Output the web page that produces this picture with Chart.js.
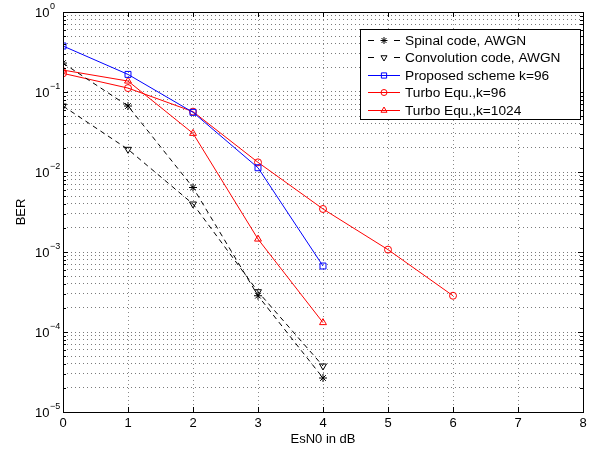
<!DOCTYPE html>
<html>
<head>
<meta charset="utf-8">
<script src="https://cdn.jsdelivr.net/npm/chart.js@4.4.1/dist/chart.umd.min.js"></script>
<style>
  html, body { margin: 0; padding: 0; background: #fff; }
  canvas { display: block; }
</style>
</head>
<body>
<canvas id="graficoBER" width="597" height="452"></canvas>
<script>
// EsN0 (dB) de cada curva
const esn0Corto = [0, 1, 2, 3, 4];
const esn0Largo = [0, 1, 2, 3, 4, 5, 6];

// BER medida
const berSpinal = [0.23, 0.0668, 0.0064, 2.84e-4, 2.66e-5];
const berConvolucion = [0.0668, 0.0192, 0.00398, 3.19e-4, 3.76e-5];
const berPropuesto = [0.376, 0.166, 0.0557, 0.0113, 6.68e-4];
const berTurbo96 = [0.171, 0.112, 0.0568, 0.0132, 0.00345, 0.00107, 2.84e-4];
const berTurbo1024 = [0.188, 0.137, 0.0304, 0.00145, 1.31e-4];

const nombres = [
  "Spinal code, AWGN",
  "Convolution code, AWGN",
  "Proposed scheme k=96",
  "Turbo Equ.,k=96",
  "Turbo Equ.,k=1024"
];

// ejes
const ticksX = [0, 1, 2, 3, 4, 5, 6, 7, 8];
const exponentesY = [-5, -4, -3, -2, -1, 0];

const FUENTE = '"Liberation Sans", Arial, Helvetica, sans-serif';
Chart.defaults.font.family = FUENTE;
Chart.defaults.font.size = 13;
Chart.defaults.color = "#000";

const puntos = (xs, ys) => xs.map((x, i) => ({ x, y: ys[i] }));

// marcas del eje log: 1..9 por década
const ticksY = [];
exponentesY.forEach(e => {
  if (e === 0) { ticksY.push(1); return; }
  for (let m = 1; m <= 9; m++) ticksY.push(+(m * Math.pow(10, e)).toPrecision(3));
});
const esDecada = v => Math.abs(Math.log10(v) - Math.round(Math.log10(v))) < 1e-9;

const serie = (label, xs, ys, color, estilo, extra) => Object.assign({
  label,
  data: puntos(xs, ys),
  borderColor: color,
  backgroundColor: color,
  borderWidth: 1,
  pointStyle: estilo,
  pointRadius: 3.5,
  pointBorderColor: color,
  pointBackgroundColor: "rgba(0,0,0,0)",
  pointBorderWidth: 1,
  pointHoverRadius: 3.5,
  tension: 0
}, extra || {});

// caja, marcas interiores, etiquetas 10^n y leyenda estilo MATLAB
const marcoMatlab = {
  id: "marcoMatlab",
  afterDatasetsDraw(chart) {
    const { ctx, chartArea: a, scales } = chart;
    const sx = scales.x, sy = scales.y;
    ctx.save();
    ctx.strokeStyle = "#000";
    ctx.lineWidth = 1;
    ctx.setLineDash([]);

    ctx.beginPath();
    ticksX.forEach(v => {
      const x = Math.round(sx.getPixelForValue(v)) + 0.5;
      ctx.moveTo(x, a.bottom); ctx.lineTo(x, a.bottom - 5);
      ctx.moveTo(x, a.top); ctx.lineTo(x, a.top + 5);
    });
    ticksY.forEach(v => {
      const y = Math.round(sy.getPixelForValue(v)) + 0.5;
      const largo = esDecada(v) ? 5 : 3;
      ctx.moveTo(a.left, y); ctx.lineTo(a.left + largo, y);
      ctx.moveTo(a.right, y); ctx.lineTo(a.right - largo, y);
    });
    ctx.stroke();

    ctx.strokeRect(Math.round(a.left) + 0.5, Math.round(a.top) + 0.5,
      Math.round(a.right - a.left), Math.round(a.bottom - a.top));

    // etiquetas del eje y
    ctx.fillStyle = "#000";
    ctx.textAlign = "left";
    ctx.textBaseline = "middle";
    exponentesY.forEach(e => {
      const y = sy.getPixelForValue(Math.pow(10, e));
      ctx.font = "13px " + FUENTE;
      ctx.fillText("10", 35, y + 1);
      const w = ctx.measureText("10").width;
      ctx.font = "9px " + FUENTE;
      ctx.fillText(e === 0 ? "0" : "\u2212" + (-e), 35 + w + 0.5, y - 5);
    });

    // leyenda
    const caja = { x: 360.5, y: 29.5, w: 220, h: 90 };
    ctx.fillStyle = "#fff";
    ctx.fillRect(caja.x, caja.y, caja.w, caja.h);
    ctx.strokeStyle = "#000";
    ctx.strokeRect(caja.x, caja.y, caja.w, caja.h);
    chart.data.datasets.forEach((ds, i) => {
      const y = Math.round(39.5 + i * 17.6) + 0.5;
      ctx.strokeStyle = ds.borderColor;
      ctx.lineWidth = 1;
      ctx.setLineDash(ds.borderDash ? [6, 20] : []);
      ctx.beginPath();
      ctx.moveTo(368, y); ctx.lineTo(400, y);
      ctx.stroke();
      ctx.setLineDash([]);
      ctx.fillStyle = "rgba(0,0,0,0)";
      Chart.helpers.drawPoint(ctx, {
        pointStyle: ds.pointStyle,
        rotation: ds.pointRotation || 0,
        radius: ds.pointRadius - 0.5,
        borderWidth: 1
      }, 384, y);
      ctx.fillStyle = "#000";
      ctx.font = "13.7px " + FUENTE;
      ctx.textBaseline = "middle";
      ctx.fillText(ds.label, 405, y + 0.5);
    });
    ctx.restore();
  }
};

new Chart(document.getElementById("graficoBER"), {
  type: "line",
  data: {
    datasets: [
      serie(nombres[0], esn0Corto, berSpinal, "#000", "star", { borderDash: [5, 4], pointRadius: 4 }),
      serie(nombres[1], esn0Corto, berConvolucion, "#000", "triangle", { borderDash: [5, 4], pointRotation: 180, pointRadius: 4 }),
      serie(nombres[2], esn0Corto, berPropuesto, "#0000ff", "rect", { pointRadius: 4.2 }),
      serie(nombres[3], esn0Largo, berTurbo96, "#ff0000", "circle"),
      serie(nombres[4], esn0Corto, berTurbo1024, "#ff0000", "triangle", { pointRadius: 4 })
    ]
  },
  options: {
    responsive: false,
    animation: false,
    events: [],
    layout: { padding: { left: 0, top: 12, right: 14, bottom: 0 } },
    plugins: { legend: { display: false }, tooltip: { enabled: false } },
    scales: {
      x: {
        type: "linear",
        min: 0,
        max: 8,
        afterBuildTicks: s => { s.ticks = ticksX.map(v => ({ value: v })); },
        afterFit: s => { s.height = 40; },
        ticks: { padding: 4, font: { size: 13 }, color: "#000" },
        grid: { color: "#8a8a8a", lineWidth: 1, drawTicks: false },
        border: { display: false, dash: [1, 3] },
        title: { display: true, text: "EsN0 in dB", font: { size: 13 }, color: "#000", padding: { top: 0, bottom: 5 } }
      },
      y: {
        type: "logarithmic",
        min: 1e-5,
        max: 1,
        afterBuildTicks: s => { s.ticks = ticksY.map(v => ({ value: v })); },
        afterFit: s => { s.width = 63; },
        ticks: { display: false },
        grid: { color: "#7a7a7a", lineWidth: 1, drawTicks: false },
        border: { display: false, dash: [1, 3] },
        title: { display: true, text: "BER", font: { size: 13 }, color: "#000", padding: { top: 14, bottom: 0 } }
      }
    }
  },
  plugins: [marcoMatlab]
});
</script>
</body>
</html>
